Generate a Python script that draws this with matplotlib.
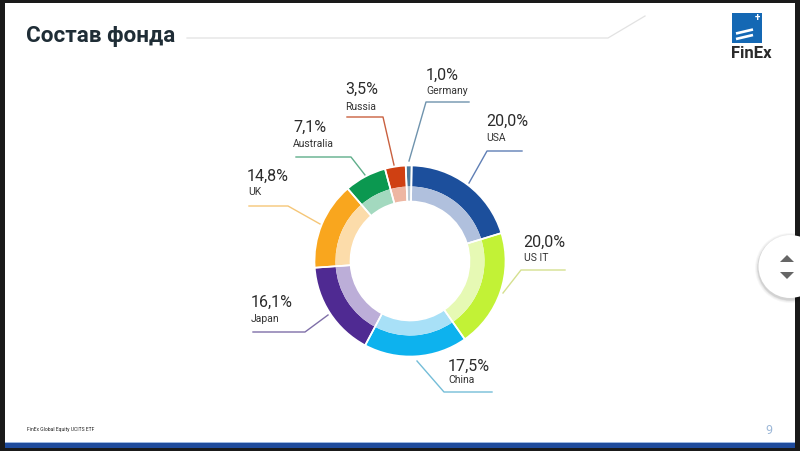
import matplotlib
matplotlib.use("Agg")
import matplotlib.pyplot as plt
from matplotlib.patches import Rectangle, Circle, Polygon

plt.rcParams['font.family'] = ['Roboto', 'DejaVu Sans']

countries = ['USA', 'US IT', 'China', 'Japan', 'UK', 'Australia', 'Russia', 'Germany']
shares = [20.0, 20.0, 17.5, 16.1, 14.8, 7.1, 3.5, 1.0]
labels = ['20,0%', '20,0%', '17,5%', '16,1%', '14,8%', '7,1%', '3,5%', '1,0%']
outer_colors = ['#1c4f9c', '#c2f236', '#0db2ee', '#4f2a92', '#f9a61e', '#0b9850', '#cf4012', '#4b7a9c']
inner_colors = ['#b0c0dd', '#e6f9b4', '#a8e0f7', '#bcaed8', '#fcdcaa', '#a3d9bf', '#eeb6a2', '#bccad4']
leader_colors = ['#5f7fb5', '#d5e08f', '#74bdd8', '#7f6fa8', '#f5c677', '#5fae8a', '#c9603f', '#6f93ad']

# leader line vertices and text anchors, in pixels of the slide
leaders = [
    [(469, 183), (487, 151), (522, 151)],
    [(503, 293), (521, 270), (565, 270)],
    [(417, 361), (444, 392), (492, 392)],
    [(328, 315), (305, 332), (253, 332)],
    [(320, 224), (288, 206), (249, 206)],
    [(365, 175), (351, 157), (296, 157)],
    [(394, 165), (383, 117), (347, 117)],
    [(409, 161), (426, 102), (469, 102)],
]
value_pos = [(486, 121), (523, 242), (448, 366), (251, 302), (247, 176), (293, 127), (345, 89), (426, 75)]
name_pos = [(486, 138), (524, 258), (448, 380), (251, 319), (248, 192), (293, 144), (345, 107), (426, 91)]

fig = plt.figure(figsize=(8, 4.51), dpi=100, facecolor='white')
bg = fig.add_axes([0, 0, 1, 1])
bg.set_xlim(0, 800)
bg.set_ylim(451, 0)
bg.axis('off')

# slide frame and bottom stripe
dark = '#1a1a1a'
bg.add_patch(Rectangle((0, 0), 800, 3, fc=dark, lw=0))
bg.add_patch(Rectangle((0, 0), 5, 451, fc=dark, lw=0))
bg.add_patch(Rectangle((795, 0), 5, 451, fc=dark, lw=0))
bg.add_patch(Rectangle((0, 448), 800, 3, fc=dark, lw=0))
bg.add_patch(Rectangle((5, 442), 790, 1.5, fc='#9db8e0', lw=0))
bg.add_patch(Rectangle((5, 443), 790, 5, fc='#1f4b9c', lw=0))

# title
bg.text(26, 36, 'Состав фонда', fontsize=16.2, fontweight='bold', color='#1f2d36', va='center', ha='left')
bg.plot([187, 608, 645], [38, 38, 16], color='#e2e2e2', lw=0.9)

# logo
bg.add_patch(Rectangle((732, 13), 30, 30, fc='#1468b4', lw=0))
bg.plot([736, 753], [33.5, 29.5], color='white', lw=1.9, solid_capstyle='butt')
bg.plot([736, 753], [39, 35], color='white', lw=1.9, solid_capstyle='butt')
bg.text(757.7, 17.7, '+', fontsize=7, fontweight='bold', color='white', ha='center', va='center')
bg.text(751.5, 53.5, 'FinEx', fontsize=12, fontweight='bold', color='#2a2a2a', ha='center', va='center')

# footer
bg.text(27, 430, 'FinEx Global Equity UCITS ETF', fontsize=3.65, color='#222222', va='center', ha='left')
bg.text(769, 431, '9', fontsize=9, color='#9db8d8', ha='center', va='center')

# doughnut: two colour rings, then white separators over both
cx, cy, r_out, r_mid, r_in = 410, 261, 95.5, 74.5, 59.5
pie_ax = fig.add_axes([(cx - r_out) / 800, 1 - (cy + r_out) / 451, 2 * r_out / 800, 2 * r_out / 451])
pie_ax.pie(shares, colors=outer_colors, startangle=89, counterclock=False, radius=1,
           wedgeprops=dict(width=(r_out - r_mid) / r_out, linewidth=0))
pie_ax.pie(shares, colors=inner_colors, startangle=89, counterclock=False, radius=r_mid / r_out,
           wedgeprops=dict(width=(r_mid - r_in) / r_out, linewidth=0))
separators = pie_ax.pie(shares, startangle=89, counterclock=False, radius=1,
                        wedgeprops=dict(width=(r_out - r_in) / r_out, facecolor='none',
                                        edgecolor='white', linewidth=1.2))
pie_ax.set_xlim(-1, 1)
pie_ax.set_ylim(-1, 1)
pie_ax.patch.set_alpha(0)

# leader lines and labels
for name, label, line, color, vp, np_ in zip(countries, labels, leaders, leader_colors, value_pos, name_pos):
    bg.plot([p[0] for p in line], [p[1] for p in line], color=color, lw=1.0)
    bg.text(vp[0], vp[1], label, fontsize=11.5, color='#2b2b2b', va='center', ha='left')
    bg.text(np_[0], np_[1], name, fontsize=7.5, color='#333333', va='center', ha='left')

# scroll button
for rad, alpha in [(35, 0.03), (34, 0.04), (33, 0.05), (32.5, 0.06)]:
    bg.add_patch(Circle((790, 268), rad, fc='black', alpha=alpha, lw=0, zorder=5))
bg.add_patch(Circle((790, 266.5), 31.5, fc='white', lw=0, zorder=6))
bg.add_patch(Polygon([(780, 262), (794, 262), (787, 255)], fc='#666666', lw=0, zorder=7))
bg.add_patch(Polygon([(780, 272), (794, 272), (787, 279)], fc='#666666', lw=0, zorder=7))

fig.savefig('out.png', dpi=100)
